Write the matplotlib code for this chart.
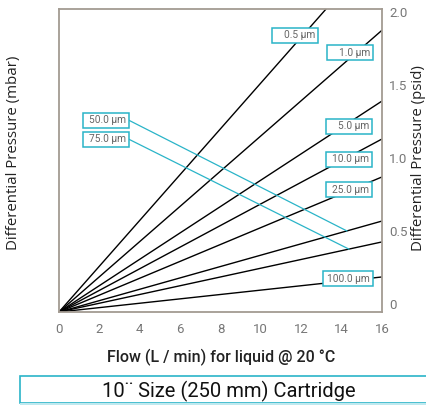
import matplotlib
matplotlib.use("Agg")
from matplotlib import pyplot as plt
from matplotlib.patches import Rectangle

plt.rcParams["font.family"] = ["Roboto", "DejaVu Sans"]

# pressure drop (psid) reached at 16 L/min for each cartridge rating
ratings = ["0.5 µm", "1.0 µm", "5.0 µm", "10.0 µm", "25.0 µm", "50.0 µm", "75.0 µm", "100.0 µm"]
flow_end = [0, 16]
psid_at_16 = [2.51, 1.93, 1.445, 1.185, 0.925, 0.623, 0.48, 0.24]

# label boxes: box right edge (flow), box centre (psid), leader target flow or None
label_x = [12.82, 15.55, 15.50, 15.50, 15.50, 3.48, 3.48, 15.55]
label_y = [1.894, 1.777, 1.271, 1.045, 0.839, 1.312, 1.182, 0.229]
leader_x = [None, None, None, None, None, 14.26, 14.36, None]

xticks = [0, 2, 4, 6, 8, 10, 12, 14, 16]
psid_ticks = [0, 0.5, 1.0, 1.5, 2.0]
psid_labels = ["0", "0.5", "1.0", "1.5", "2.0"]

cyan = "#2ab4c8"
frame = "#a39b92"
grey = "#777777"

fig = plt.figure(figsize=(4.26, 4.05), dpi=100)
ax = fig.add_axes([59 / 426, 1 - 312 / 405, 323 / 426, 303 / 405])
px_x = 16 / 323
px_y = 1 / 146

for p in psid_at_16:
    ax.plot(flow_end, [0, p], color="black", lw=1.0, solid_capstyle="butt")

ax.set_xlim(0, 16)
ax.set_ylim(0, 303 / 146)
ax.set_xticks(xticks)
ax.set_xticklabels([str(t) for t in xticks], color=grey, fontsize=9.5)
ax.set_yticks([])
ax.tick_params(axis="x", length=0, pad=8)
for s in ax.spines.values():
    s.set_color(frame)
    s.set_linewidth(1.3)

for name, x, y, lx, p in zip(ratings, label_x, label_y, leader_x, psid_at_16):
    w = (50 if name.startswith("100") else 46) * px_x
    h = 15 * px_y
    if lx is not None:
        ax.plot([x, lx], [y, p * lx / 16], color=cyan, lw=0.9, zorder=4)
    ax.add_patch(Rectangle((x - w, y - h / 2), w, h, fc="white", ec=cyan, lw=1.1, zorder=5))
    ax.text(x - 3 * px_x, y, name, ha="right", va="center", fontsize=7.3, color="#666666", zorder=6)

ax2 = ax.twinx()
ax2.set_ylim(-8 / 146, 2.0 + 3 / 146)
ax2.set_yticks(psid_ticks)
ax2.set_yticklabels(psid_labels, color=grey, fontsize=9.5)
ax2.tick_params(axis="y", length=0, pad=5)
for s in ax2.spines.values():
    s.set_visible(False)

fig.text(221 / 426, 1 - 357 / 405, "Flow (L / min) for liquid @ 20 °C", ha="center", va="center",
         fontsize=11.5, color="#222222", fontweight="medium")
fig.text(14 / 426, 1 - 153 / 405, "Differential Pressure (mbar)", rotation=90, ha="center",
         va="center", fontsize=10.8, color="#222222", family=["Open Sans", "DejaVu Sans"])
fig.text(418 / 426, 1 - 158 / 405, "Differential Pressure (psid)", rotation=90, ha="center",
         va="center", fontsize=10.8, color="#222222", family=["Open Sans", "DejaVu Sans"])

fig.patches.append(Rectangle((20 / 426, 2 / 405), 1.0, 27 / 405, transform=fig.transFigure,
                             fc="white", ec=cyan, lw=1.2))
fig.patches.append(Rectangle((20 / 426, 0), 1.0, 2 / 405, transform=fig.transFigure,
                             fc="#bfe9ef", ec="none"))
fig.text(229 / 426, 1 - 391 / 405, "10¨ Size (250 mm) Cartridge", ha="center", va="center",
         fontsize=14.5, color="#111111")

fig.savefig("out.png", dpi=100)
